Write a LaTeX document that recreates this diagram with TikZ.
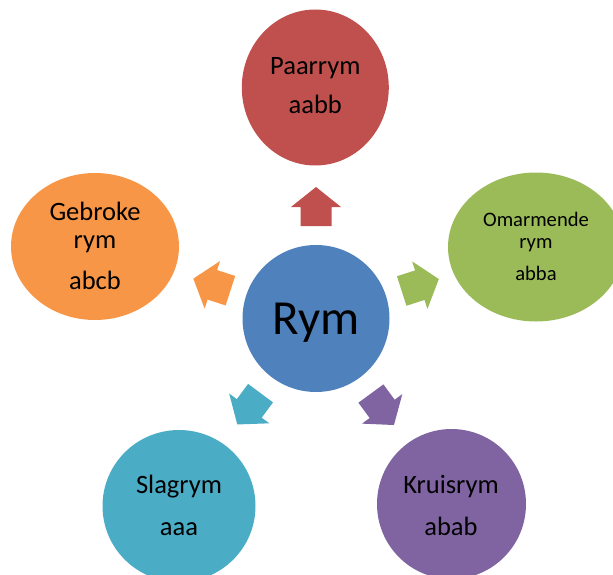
\documentclass[tikz,border=0pt]{standalone}
\usepackage{fontspec}
\setmainfont{Carlito}
\usetikzlibrary{shapes.geometric}
\definecolor{cblue}{HTML}{4F81BD}
\definecolor{cred}{HTML}{C0504D}
\definecolor{cgreen}{HTML}{9BBB59}
\definecolor{cpurple}{HTML}{8064A2}
\definecolor{cteal}{HTML}{4BACC6}
\definecolor{corange}{HTML}{F79646}
\begin{document}
\begin{tikzpicture}[x=1pt,y=1pt,
  blob/.style={ellipse, inner sep=0pt, draw=none},
  lbl/.style={anchor=base, inner sep=0pt, text=black, font=\fontsize{26.5}{30}\selectfont},
  lbls/.style={anchor=base, inner sep=0pt, text=black, font=\fontsize{20.6}{24}\selectfont}]
\useasboundingbox (0,0) rectangle (613,-575);
\clip (0,0) rectangle (613,-575);
% circles
\node[blob, fill=cblue, minimum width=147pt, minimum height=147pt] (rym) at (316,-318.5) {};
\node[blob, fill=cred, minimum width=147pt, minimum height=156pt] (paar) at (315.3,-87.5) {};
\node[blob, fill=cgreen, minimum width=176pt, minimum height=149pt] (omar) at (536,-247) {};
\node[blob, fill=corange, minimum width=168pt, minimum height=147pt] (gebr) at (95,-246.5) {};
\node[blob, fill=cteal, minimum width=153pt, minimum height=152pt] (slag) at (179,-506) {};
\node[blob, fill=cpurple, minimum width=149pt, minimum height=150pt] (krui) at (451.5,-504) {};
% arrows
\foreach \ang/\b/\col in {90/92.5/cred, 17.8/90/cgreen, 162/90/corange, -126.6/93/cteal, -53.8/93/cpurple}
  \fill[\col, shift={(rym.center)}, rotate=\ang]
    (\b,-15.5) -- (\b+19,-15.5) -- (\b+19,-25) -- (\b+39,0) -- (\b+19,25) -- (\b+19,15.5) -- (\b,15.5) -- cycle;
% texts
\node[anchor=base, inner sep=0pt, font=\fontsize{49}{55}\selectfont] (rymT) at (316,-334) {Rym};
\node[lbl] (paarT1) at (315.3,-75) {Paarrym};
\node[lbl] (paarT2) at (315.3,-113.3) {aabb};
\node[lbl] (gebrT1) at (95,-220.5) {Gebroke};
\node[lbl] (gebrT2) at (95,-248) {rym};
\node[lbl] (gebrT3) at (95,-289.3) {abcb};
\node[lbls] (omarT1) at (536,-226) {Omarmende};
\node[lbls] (omarT2) at (536,-248.3) {rym};
\node[lbls] (omarT3) at (536,-280.7) {abba};
\node[lbl] (slagT1) at (179,-493.3) {Slagrym};
\node[lbl] (slagT2) at (179,-535) {aaa};
\node[lbl] (kruiT1) at (451,-493.3) {Kruisrym};
\node[lbl] (kruiT2) at (451,-535) {abab};
\end{tikzpicture}
\end{document}
